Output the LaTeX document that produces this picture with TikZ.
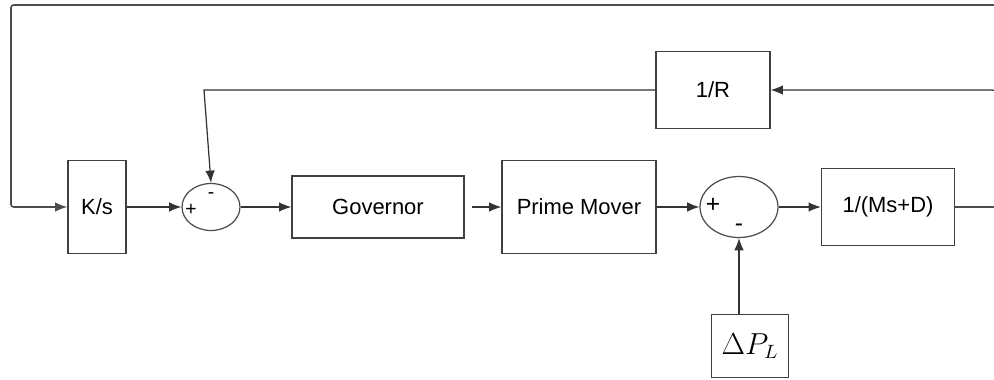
\documentclass[tikz,border=0pt]{standalone}
\usepackage{fontspec}
\setmainfont{Liberation Sans}
\usepackage{amsmath}
\usetikzlibrary{arrows.meta, positioning, calc, shapes.geometric}

\tikzset{
  blocco/.style={draw=black!75, line width=0.8pt, rectangle, inner sep=2pt,
    font=\fontsize{12.5}{15}\selectfont},
  somma/.style={draw=black!70, line width=0.7pt, ellipse, inner sep=0pt},
  segno/.style={inner sep=0pt, font=\fontsize{11}{13}\selectfont},
  freccia/.style={draw=black!80, line width=0.7pt, -{Latex[length=7pt,width=5.5pt]}},
}

\begin{document}
\begin{tikzpicture}[x=0.02cm, y=-0.02cm]
    \useasboundingbox (0,0) rectangle (994,379);

    % Blocchi
    \node[blocco, minimum width=1.16cm, minimum height=1.86cm] (ks) at (97,207) {K/s};
    \node[blocco, minimum width=3.44cm, minimum height=1.24cm] (gov) at (378,207) {Governor};
    \node[blocco, minimum width=3.08cm, minimum height=1.86cm] (pm) at (579,207) {Prime Mover};
    \node[blocco, minimum width=2.66cm, minimum height=1.54cm] (msd) at (888,207) {1/(Ms+D)};
    \node[blocco, minimum width=2.28cm, minimum height=1.54cm] (rr) at (713,90) {1/R};
    \node[blocco, minimum width=1.54cm, minimum height=1.26cm, font=\fontsize{16}{18}\selectfont] (dpl) at (750,346) {$\Delta P_L$};

    % Nodi somma
    \node[somma, minimum width=1.16cm, minimum height=0.94cm] (s1) at (211,207) {};
    \node[segno] (s1p) at (191,210) {+};
    \node[segno] (s1m) at (211,196) {-};
    \node[somma, minimum width=1.56cm, minimum height=1.22cm] (s2) at (739,207) {};
    \node[segno, font=\fontsize{14}{16}\selectfont] (s2p) at (713,205) {+};
    \node[segno, font=\fontsize{14}{16}\selectfont] (s2m) at (739,228) {-};

    % Catena diretta
    \draw[freccia] (ks) -- (s1);
    \draw[freccia] (s1) -- (gov);
    \draw[freccia, shorten <=4pt] (gov) -- (pm);
    \draw[freccia] (pm) -- (s2);
    \draw[freccia] (s2) -- (msd);
    \draw[freccia] (s2 |- dpl.north) -- (s2.south);

    % Retroazioni (tagliate a destra)
    \coordinate (dx) at (999,5);
    \coordinate (sx) at (11,5);
    \coordinate (fb) at (204,90);
    \draw[freccia, line width=0.9pt, draw=black!70, rounded corners=1.5pt] (msd.east) -| (dx) -- (sx) |- (ks.west);
    \draw[freccia, rounded corners=4pt] ($(dx |- rr.east)+(0,14)$) -- (dx |- rr.east) -- (rr.east);
    \draw[freccia] (rr.west) -- (fb) -- (s1.north);

\end{tikzpicture}
\end{document}
